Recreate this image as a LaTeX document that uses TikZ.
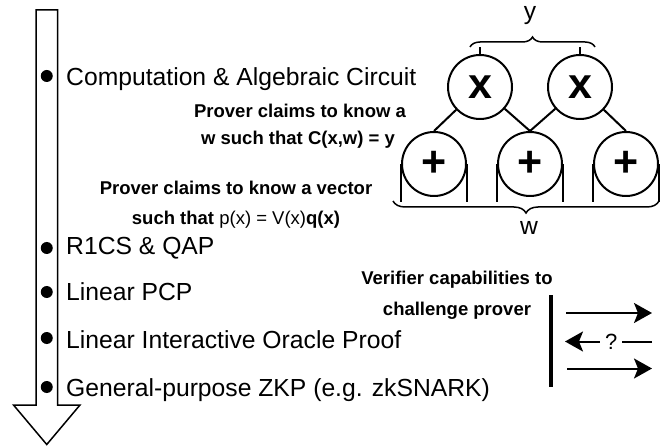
\documentclass[tikz,border=0pt]{standalone}
\usepackage{fontspec}
\setmainfont{Liberation Sans}
\usetikzlibrary{arrows.meta,decorations.pathreplacing}
\begin{document}
\begin{tikzpicture}[x={(1pt,0)},y={(0,-1pt)},
  dot/.style={circle,fill,inner sep=0,minimum size=12},
  item/.style={anchor=base west,inner sep=0,font=\fontsize{24.7}{28}\selectfont},
  claim/.style={anchor=base,inner sep=0,font=\fontsize{18.5}{20}\selectfont\bfseries},
  gate/.style={draw,circle,line width=2pt,minimum size=64,inner sep=0,font=\fontsize{43}{43}\selectfont\bfseries},
  wire/.style={line width=2pt},
  tip/.style={-{Stealth[length=18pt,width=20pt,inset=4pt]}},
  brc/.style={line width=1.5pt,decorate,decoration={brace,amplitude=10}}]
\useasboundingbox (0,0) rectangle (661,446);
% the big arrow down the left
\draw[line width=1.5pt](36,10)--(57.5,10)--(57.5,405)--(80,405)--(46.75,444.5)--(13.5,405)--(36,405)--cycle;
\foreach \n/\y/\b/\t in {1/76/86/Computation \& Algebraic Circuit,2/248/255/R1CS \& QAP,3/292/300/Linear PCP,4/338/348/Linear Interactive Oracle Proof,5/387/396/General-purpose ZKP (e.g. zkSNARK)}{\node[dot](d\n) at (46.75,\y){}; \node[item](t\n) at (66,\b){\t};}
% claims
\node[claim](c1) at (300,118){Prover claims to know a};
\node[claim](c2) at (298,145){w such that C(x,w) = y};
\node[claim](c3) at (236,195){Prover claims to know a vector};
\node[claim](c4) at (236,225){such that \mdseries p(x) = V(x)\bfseries q(x)};
% circuit
\node[gate](m1) at (480,87){x};
\node[gate](m2) at (580,87){x};
\foreach \n/\x in {1/434,2/530,3/626}{\node[gate](a\n) at (\x,164){+};}
\foreach \m/\a in {m1/a1,m1/a2,m2/a2,m2/a3}{\draw[wire](\m)--(\a.north);}
\foreach \a in {a1,a2,a3}{\draw[wire](\a.west)--++(0,38); \draw[wire](\a.east)--++(0,38);}
\coordinate(yl) at (470,47); \coordinate(yr) at (595,47);
\draw[brc](yl)--(yr);
\foreach \m in {m1,m2}{\draw[wire](\m.north)--(\m.north|-yl);}
\node[anchor=base,inner sep=0,font=\fontsize{24.7}{28}\selectfont](ylab) at (530,20){y};
\coordinate(wl) at (393,201); \coordinate(wr) at (659,201);
\draw[brc,decoration={brace,mirror,amplitude=12}](wl)--(wr);
\node[anchor=base,inner sep=0,font=\fontsize{24.7}{28}\selectfont](wlab) at (529,235){w};
% verifier
\node[claim](v1) at (457,285){Verifier capabilities to};
\node[claim](v2) at (457,315){challenge prover};
\coordinate(vt) at (551,295); \coordinate(vb) at (551,387);
\draw[line width=3.5pt](vt)--(vb);
\coordinate(p1) at (566,313); \coordinate(q1) at (652,313);
\coordinate(p2) at (565,341.5); \coordinate(q2) at (652,341.5);
\coordinate(p3) at (567,368.5); \coordinate(q3) at (652,368.5);
\draw[wire,tip](p1)--(q1);
\draw[wire,tip](q2)--node[pos=0.47,fill=white,inner xsep=5pt,inner ysep=1pt,font=\fontsize{22}{24}\selectfont](qm){?}(p2);
\draw[wire,tip](p3)--(q3);
\end{tikzpicture}
\end{document}
